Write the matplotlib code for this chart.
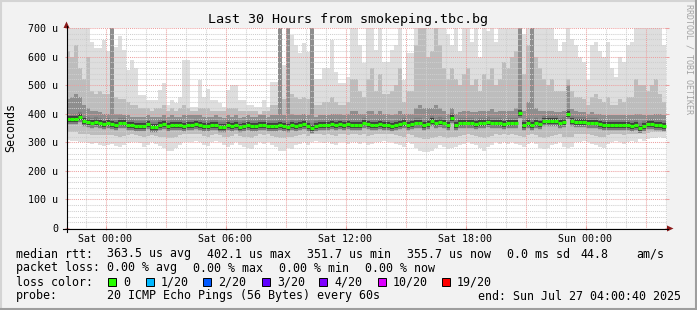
import numpy as np
import matplotlib
matplotlib.use('Agg')
import matplotlib.pyplot as plt
from matplotlib.patches import Rectangle, Polygon
from matplotlib.lines import Line2D

plt.rcParams['font.family'] = 'DejaVu Sans Mono'

W, H, DPI = 697, 310, 100

# 150 consolidated samples (12 min each), time in hours relative to Sat 00:00
t_start = -2 + 40 / 3600.0
t_step = 0.2

# median rtt per sample (us)
median = [381, 381, 382, 390, 374, 370, 366, 371, 366, 363,
          368, 364, 359, 368, 368, 359, 359, 357, 357, 357,
          363, 355, 355, 359, 364, 357, 362, 360, 360, 358,
          360, 362, 363, 360, 358, 357, 360, 362, 355, 352,
          360, 358, 362, 352, 358, 360, 357, 358, 362, 360,
          356, 358, 358, 360, 357, 355, 360, 358, 360, 364,
          356, 350, 356, 360, 360, 362, 364, 362, 363, 360,
          364, 362, 360, 362, 366, 364, 362, 360, 364, 362,
          360, 358, 362, 364, 366, 360, 364, 368, 366, 362,
          364, 374, 366, 372, 366, 362, 386, 360, 368, 366,
          368, 366, 364, 366, 366, 370, 368, 366, 368, 364,
          366, 366, 366, 401, 362, 368, 362, 366, 364, 374,
          374, 374, 374, 368, 370, 399, 374, 372, 370, 370,
          366, 366, 366, 365, 362, 360, 362, 360, 362, 360,
          362, 358, 360, 351, 356, 365, 365, 362, 362, 356]

# highest ping of each sample (clipped at 700 us)
top = [700, 700, 700, 700, 700, 700, 651, 630, 630, 658,
       620, 700, 634, 672, 623, 553, 588, 560, 465, 465,
       448, 448, 448, 483, 507, 430, 448, 437, 459, 588,
       588, 424, 424, 518, 459, 487, 448, 448, 437, 424,
       483, 500, 500, 448, 448, 430, 430, 424, 424, 448,
       424, 511, 511, 700, 570, 700, 675, 640, 612, 647,
       616, 700, 523, 523, 560, 560, 658, 546, 507, 507,
       530, 700, 700, 640, 577, 700, 700, 623, 700, 581,
       581, 623, 640, 700, 518, 612, 612, 700, 700, 700,
       700, 700, 700, 700, 700, 680, 640, 700, 620, 700,
       700, 650, 700, 600, 700, 690, 700, 650, 700, 700,
       700, 700, 700, 700, 680, 700, 700, 700, 700, 700,
       700, 700, 660, 620, 650, 700, 660, 640, 600, 580,
       518, 640, 650, 620, 600, 650, 560, 530, 600, 580,
       640, 650, 700, 700, 700, 700, 700, 700, 700, 640]

# upper edge of the mid-grey smoke
upper = [620, 600, 640, 560, 520, 600, 480, 470, 480, 470,
         470, 700, 460, 450, 450, 440, 430, 430, 420, 420,
         420, 410, 420, 420, 430, 410, 420, 410, 420, 430,
         420, 410, 410, 420, 420, 420, 410, 410, 410, 410,
         420, 420, 420, 410, 410, 410, 410, 410, 400, 410,
         410, 430, 430, 700, 450, 700, 470, 460, 450, 460,
         450, 700, 430, 430, 440, 440, 460, 440, 430, 430,
         440, 520, 520, 480, 460, 520, 560, 480, 540, 470,
         470, 480, 500, 560, 440, 480, 480, 640, 700, 700,
         600, 620, 700, 640, 560, 520, 560, 520, 500, 540,
         560, 500, 520, 480, 540, 520, 560, 500, 520, 580,
         560, 600, 620, 700, 540, 640, 700, 600, 560, 520,
         500, 520, 480, 480, 480, 520, 480, 460, 460, 450,
         430, 460, 470, 450, 440, 460, 430, 430, 450, 440,
         460, 460, 520, 500, 500, 480, 500, 520, 470, 440]

# upper edge of the dark smoke
mid = [450, 460, 470, 460, 430, 420, 410, 410, 405, 400,
       400, 700, 400, 400, 395, 395, 390, 390, 390, 390,
       395, 390, 390, 390, 395, 390, 395, 390, 390, 395,
       395, 395, 395, 395, 390, 390, 390, 395, 390, 385,
       395, 390, 395, 385, 390, 395, 390, 390, 395, 395,
       390, 395, 395, 700, 395, 700, 400, 395, 395, 400,
       395, 700, 390, 395, 395, 395, 400, 400, 400, 395,
       400, 410, 410, 400, 400, 410, 410, 400, 410, 400,
       400, 395, 400, 410, 400, 400, 400, 420, 430, 420,
       420, 420, 430, 420, 410, 400, 420, 400, 405, 410,
       410, 405, 405, 410, 410, 410, 415, 405, 410, 410,
       410, 410, 420, 700, 410, 440, 700, 420, 410, 410,
       410, 410, 405, 405, 410, 500, 415, 410, 405, 405,
       400, 405, 400, 400, 395, 395, 395, 395, 395, 395,
       395, 395, 400, 400, 395, 395, 395, 400, 400, 395]

# lower edge of the mid-grey smoke
lower = [335, 335, 335, 330, 330, 330, 325, 325, 325, 325,
         325, 325, 322, 320, 322, 325, 328, 325, 322, 320,
         322, 325, 322, 320, 318, 315, 315, 320, 325, 328,
         328, 328, 330, 328, 322, 320, 325, 328, 325, 320,
         320, 322, 328, 322, 320, 318, 315, 322, 328, 325,
         328, 322, 320, 315, 315, 318, 318, 322, 325, 328,
         322, 328, 330, 328, 325, 328, 325, 322, 328, 328,
         325, 328, 328, 325, 328, 322, 325, 328, 328, 330,
         328, 328, 325, 322, 320, 328, 325, 318, 315, 312,
         312, 315, 318, 322, 320, 315, 318, 320, 322, 325,
         328, 325, 322, 318, 315, 320, 322, 328, 325, 328,
         325, 328, 325, 322, 320, 325, 328, 325, 318, 315,
         318, 322, 325, 328, 320, 318, 320, 328, 328, 330,
         328, 325, 322, 320, 318, 325, 328, 330, 328, 325,
         328, 330, 328, 332, 330, 332, 335, 335, 336, 335]

# lowest ping of each sample
bottom = [308, 305, 305, 300, 300, 298, 295, 298, 290, 288,
          290, 295, 288, 285, 290, 298, 300, 300, 296, 285,
          290, 300, 295, 288, 280, 270, 268, 280, 290, 300,
          300, 300, 305, 300, 290, 288, 300, 305, 300, 290,
          285, 290, 300, 290, 285, 280, 275, 290, 300, 295,
          300, 290, 285, 270, 268, 280, 275, 290, 295, 300,
          290, 300, 305, 300, 296, 300, 295, 290, 300, 300,
          295, 300, 300, 295, 300, 290, 295, 300, 300, 305,
          300, 300, 295, 290, 285, 300, 295, 280, 270, 265,
          265, 270, 280, 290, 285, 275, 280, 285, 290, 295,
          300, 295, 290, 280, 270, 285, 290, 300, 295, 300,
          295, 300, 295, 290, 285, 295, 300, 295, 280, 275,
          280, 290, 295, 300, 285, 280, 285, 300, 300, 305,
          300, 295, 290, 285, 280, 295, 300, 305, 300, 295,
          300, 305, 300, 310, 305, 312, 315, 315, 318, 316]

y_ticks = [0, 100, 200, 300, 400, 500, 600, 700]
y_labels = ['0', '100 u', '200 u', '300 u', '400 u', '500 u', '600 u', '700 u']
x_ticks = [0, 6, 12, 18, 24]
x_labels = ['Sat 00:00', 'Sat 06:00', 'Sat 12:00', 'Sat 18:00', 'Sun 00:00']

loss_labels = ['0', '1/20', '2/20', '3/20', '4/20', '10/20', '19/20']
loss_colors = ['#26ff00', '#00b8ff', '#0059ff', '#5e00ff', '#7e00ff', '#dd00ff', '#ff0000']


def fx(x):
    return x / W


def fy(y):
    return 1 - y / H


fig = plt.figure(figsize=(W / DPI, H / DPI), dpi=DPI, facecolor='#f2f2f2')

# plot canvas: 600 x 200 px
ax = fig.add_axes([fx(67), fy(228), 600 / W, 200 / H])
ax.set_facecolor('white')
x0 = -1.925
ax.set_xlim(x0, x0 + 30)
ax.set_ylim(0, 700)
for s in ax.spines.values():
    s.set_visible(False)

edges = t_start + t_step * np.arange(len(median) + 1)
left, right = edges[:-1], edges[1:]
med = np.array(median, dtype=float)

ax.stairs(top, edges, baseline=bottom, fill=True, color='#dedede', lw=0, zorder=1)
ax.stairs(upper, edges, baseline=lower, fill=True, color='#bdbdbd', lw=0, zorder=1.1)
ax.stairs(mid, edges, baseline=med, fill=True, color='#8e8e8e', lw=0, zorder=1.2)
# dark core around the median, then the median itself
ax.hlines(med, left, right, color='#7c7c7c', lw=7.5, capstyle='butt', zorder=1.3)
ax.hlines(med, left, right, color='#404040', lw=4.3, capstyle='butt', zorder=1.4)
ax.hlines(med, left, right, color='#26ff00', lw=2.3, capstyle='butt', zorder=3)

# grid
minor_c = '#cfcfcf'
major_c = '#eca0a0'
for v in range(0, 701, 20):
    if v % 100:
        ax.axhline(v, color=minor_c, lw=0.75, ls=(0, (1, 1)), zorder=2)
for h in range(-1, 29):
    if h % 3:
        ax.axvline(h, color=minor_c, lw=0.75, ls=(0, (1, 1)), zorder=2)
for v in y_ticks[1:]:
    ax.axhline(v, color=major_c, lw=0.75, ls=(0, (1, 1)), zorder=2.1)
for h in range(0, 28, 3):
    ax.axvline(h, color=major_c, lw=0.75, ls=(0, (1, 1)), zorder=2.1)

ax.set_yticks(y_ticks)
ax.set_yticklabels(y_labels)
ax.set_xticks(x_ticks)
ax.set_xticklabels(x_labels)
ax.tick_params(axis='y', length=3, width=0.75, color=major_c, direction='inout',
               labelsize=7.2, pad=5, right=True)
ax.tick_params(axis='x', length=3, width=0.75, color=major_c, direction='inout',
               labelsize=7.2, pad=3, top=False)
fig.text(fx(11), fy(128), 'Seconds', rotation=90, ha='center', va='center', fontsize=8.4)

# axes lines with arrows
fig.add_artist(Line2D([fx(63), fx(668)], [fy(228.5), fy(228.5)], color='black', lw=0.8))
fig.add_artist(Line2D([fx(66.5), fx(66.5)], [fy(232), fy(26)], color='black', lw=0.8))
fig.add_artist(Polygon([[fx(63.5), fy(28)], [fx(69.5), fy(28)], [fx(66.5), fy(21.5)]],
                       closed=True, color='#8b1a1a', lw=0))
fig.add_artist(Polygon([[fx(667), fy(225.5)], [fx(667), fy(231.5)], [fx(673.5), fy(228.5)]],
                       closed=True, color='#8b1a1a', lw=0))

# title and watermark
fig.text(fx(348), fy(19), 'Last 30 Hours from smokeping.tbc.bg', ha='center', va='center',
         fontsize=9.6, color='black')
fig.text(fx(688.5), fy(59), 'RRDTOOL / TOBI OETIKER', ha='center', va='center',
         rotation=270, fontsize=6, color='#a3a3a3')

# legend block
fs = 8.4
rows = [
    (254, [(16, 'median rtt:'), (107, '363.5 us avg'), (207, '402.1 us max'),
           (307, '351.7 us min'), (407, '355.7 us now'), (507, '0.0 ms sd'),
           (580, '44.8'), (636, 'am/s')]),
    (268, [(16, 'packet loss:'), (107, '0.00 % avg'), (193, '0.00 % max'),
           (279, '0.00 % min'), (365, '0.00 % now')]),
    (282, [(16, 'loss color:')]),
    (296, [(16, 'probe:'), (107, '20 ICMP Echo Pings (56 Bytes) every 60s')]),
]
for y, items in rows:
    for x, s in items:
        fig.text(fx(x), fy(y), s, ha='left', va='center', fontsize=fs, color='black')
fig.text(fx(681), fy(296), 'end: Sun Jul 27 04:00:40 2025', ha='right', va='center',
         fontsize=fs, color='black')

box_x = [108, 146, 203, 262, 319, 378, 442]
for bx, lab, col in zip(box_x, loss_labels, loss_colors):
    fig.add_artist(Rectangle((fx(bx), fy(286)), 8 / W, 8 / H, facecolor=col,
                             edgecolor='black', lw=0.7))
    fig.text(fx(bx + 15), fy(282), lab, ha='left', va='center', fontsize=fs, color='black')

# frame shading
fig.add_artist(Line2D([0, 1], [fy(0.5), fy(0.5)], color='#d4d4d4', lw=1.5))
fig.add_artist(Line2D([fx(0.5), fx(0.5)], [0, 1], color='#d4d4d4', lw=1.5))
fig.add_artist(Line2D([0, 1], [fy(309), fy(309)], color='#9e9e9e', lw=1.5))
fig.add_artist(Line2D([fx(696), fx(696)], [0, 1], color='#9e9e9e', lw=1.5))

fig.savefig('out.png', dpi=DPI, facecolor=fig.get_facecolor())
